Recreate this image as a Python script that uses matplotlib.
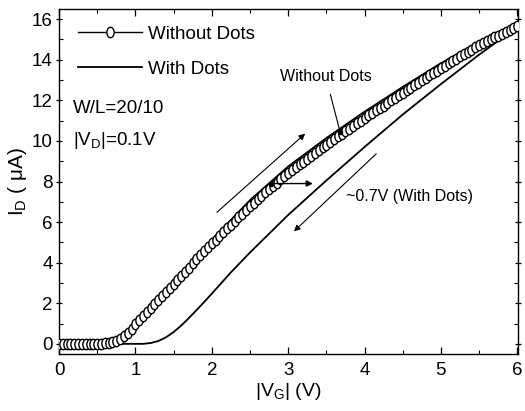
import numpy as np
import matplotlib
matplotlib.use('Agg')
import matplotlib.pyplot as plt
from matplotlib.path import Path
from matplotlib.transforms import Affine2D

plt.rcParams['font.family'] = ['Liberation Sans', 'DejaVu Sans']
plt.rcParams['mathtext.fontset'] = 'custom'
plt.rcParams['mathtext.rm'] = 'Liberation Sans'
plt.rcParams['mathtext.it'] = 'Liberation Sans:italic'

# forward sweep, without dots (open circles, every 0.05 V)
vg_wo = np.arange(0, 121) * 0.05
id_wo = [0.0, 0.0, 0.0, 0.0, 0.0, 0.0, 0.0, 0.0, 0.0, 0.0,
         0.0, 0.0, 0.02, 0.05, 0.10, 0.16, 0.25, 0.38, 0.55, 0.75,
         0.97, 1.17, 1.37, 1.56, 1.76, 1.96, 2.16, 2.36, 2.56, 2.76,
         2.96, 3.16, 3.36, 3.56, 3.76, 3.96, 4.16, 4.36, 4.56, 4.76,
         4.95, 5.14, 5.33, 5.52, 5.70, 5.88, 6.06, 6.24, 6.42, 6.60,
         6.78, 6.95, 7.12, 7.29, 7.46, 7.62, 7.78, 7.94, 8.10, 8.26,
         8.42, 8.56, 8.70, 8.84, 8.98, 9.12, 9.26, 9.40, 9.54, 9.68,
         9.82, 9.96, 10.09, 10.22, 10.35, 10.48, 10.61, 10.74, 10.87, 11.00,
         11.13, 11.26, 11.38, 11.50, 11.62, 11.74, 11.87, 12.00, 12.12, 12.25,
         12.37, 12.49, 12.61, 12.74, 12.86, 12.98, 13.10, 13.23, 13.35, 13.47,
         13.59, 13.71, 13.83, 13.94, 14.06, 14.17, 14.28, 14.39, 14.50, 14.61,
         14.71, 14.81, 14.91, 15.01, 15.10, 15.19, 15.28, 15.37, 15.46, 15.55,
         15.64]

# reverse sweep, without dots (thin line just above the circles)
vg_wo_rev = [1.0, 1.5, 2.0, 2.5, 3.0, 3.5, 4.0, 4.5, 5.0, 5.5, 6.0]
id_wo_rev = [0.97, 3.0, 5.12, 7.08, 8.74, 10.14, 11.44, 12.66, 13.83, 14.86, 15.64]

# with dots
vg_w = [0.0, 1.0, 1.1, 1.2, 1.3, 1.4, 1.5, 1.6, 1.7, 1.8, 1.9, 2.0, 2.25, 2.5,
        3.0, 3.5, 4.0, 4.5, 5.0, 5.5, 6.0]
id_w = [0.0, 0.0, 0.0, 0.04, 0.14, 0.32, 0.58, 0.9, 1.27, 1.66, 2.06, 2.47, 3.52, 4.5,
        6.35, 8.05, 9.7, 11.3, 12.8, 14.25, 15.6]

# slightly tall open circle, like the scanned markers
oval = Affine2D().scale(0.7, 1.0).transform_path(Path.unit_circle())

fig = plt.figure(figsize=(5.25, 4.11), dpi=100)
ax = fig.add_axes([0.1124, 0.1387, 0.8743, 0.8393])

ax.plot(vg_w, id_w, color='black', lw=1.3, label='With Dots', zorder=2)
ax.plot(vg_wo_rev, id_wo_rev, color='black', lw=1.3, zorder=2)
ax.plot(vg_wo, id_wo, color='black', lw=1.0, marker=oval, ms=7.5, mfc='white',
        mec='black', mew=1.0, label='Without Dots', zorder=3)

ax.set_xlim(0, 6.01)
ax.set_ylim(-0.5, 16.5)
ax.set_xticks([0, 1, 2, 3, 4, 5, 6])
ax.set_yticks([0, 2, 4, 6, 8, 10, 12, 14, 16])
ax.set_xticks(np.arange(0.5, 6, 1.0), minor=True)
ax.set_yticks(np.arange(1, 17, 2), minor=True)
ax.tick_params(axis='x', which='both', direction='in', top=True, labelsize=13.5, pad=6)
ax.tick_params(axis='y', which='both', direction='in', right=True, labelsize=13.5, pad=2)
ax.tick_params(axis='y', which='major', left=True, direction='inout')
ax.tick_params(which='major', length=5, width=0.9)
ax.tick_params(which='minor', length=3, width=0.8)
for s in ax.spines.values():
    s.set_linewidth(1.0)

ax.set_xlabel(r'|V$_\mathregular{G}$| (V)', fontsize=14, labelpad=1)
ax.set_ylabel(r'I$_\mathregular{D}$ ( $\mathregular{\mu}$A)', fontsize=15, labelpad=2)

h, l = ax.get_legend_handles_labels()
ax.legend(h[::-1], l[::-1], loc='upper left', bbox_to_anchor=(0.005, 1.0), frameon=False,
          fontsize=13.5, handlelength=3.4, numpoints=1, labelspacing=0.95,
          handletextpad=0.35)

ax.text(0.03, 11.62, 'W/L=20/10', transform=ax.get_yaxis_transform(),
        fontsize=13.5, va='center', ha='left')
ax.text(0.03, 10.04, r'|V$_\mathregular{D}$|=0.1V', transform=ax.get_yaxis_transform(),
        fontsize=13.5, va='center', ha='left')

# sweep arrows
ax.annotate('', xy=(3.25, 10.45), xytext=(2.04, 6.39),
            arrowprops=dict(arrowstyle='-|>', color='black', lw=0.8, mutation_scale=9))
ax.annotate('', xy=(3.05, 5.45), xytext=(4.18, 9.46),
            arrowprops=dict(arrowstyle='-|>', color='black', lw=0.8, mutation_scale=9))
ax.annotate('', xy=(3.36, 7.9), xytext=(2.77, 7.9),
            arrowprops=dict(arrowstyle='-|>', color='black', lw=1.0, mutation_scale=9))
ax.plot([2.77], [7.9], 'ko', ms=3, zorder=4)

ax.annotate('Without Dots', xy=(3.68, 10.45), xytext=(3.49, 13.2),
            fontsize=11.5, ha='center', va='center',
            arrowprops=dict(arrowstyle='-', color='black', lw=0.8, shrinkA=6, shrinkB=0))
ax.plot([3.68], [10.45], 'ko', ms=3, zorder=4)
ax.text(3.76, 7.28, '~0.7V (With Dots)', fontsize=11.5, ha='left', va='center')

plt.savefig('out.png', dpi=100)
